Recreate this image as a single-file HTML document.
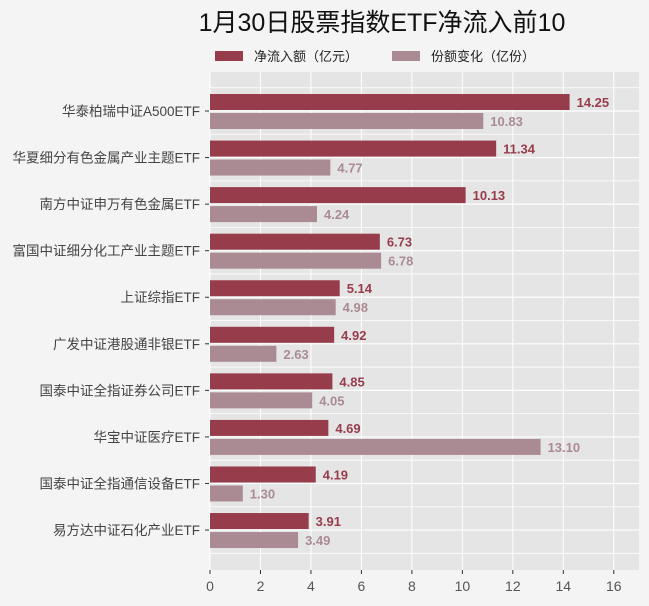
<!DOCTYPE html>
<html><head><meta charset="utf-8"><style>
body{margin:0;background:#f4f4f4;font-family:"Liberation Sans","Noto Sans CJK SC",sans-serif;}
svg{display:block}
</style></head><body>
<svg id="c" width="649" height="606">
<text x="382" y="31" text-anchor="middle" font-size="25" fill="#111" font-family="Liberation Sans,Noto Sans CJK SC,sans-serif">1月30日股票指数ETF净流入前10</text>
<g>
<rect x="215" y="51" width="28" height="10" fill="#973c4b"/>
<text x="254" y="61" font-size="13" fill="#222">净流入额（亿元）</text>
<rect x="392" y="51" width="28" height="10" fill="#ab8b93"/>
<text x="431" y="61" font-size="13" fill="#222">份额变化（亿份）</text>
</g>
<g id="plot"></g>
</svg>
<script>
const categories=["华泰柏瑞中证A500ETF","华夏细分有色金属产业主题ETF","南方中证申万有色金属ETF","富国中证细分化工产业主题ETF","上证综指ETF","广发中证港股通非银ETF","国泰中证全指证券公司ETF","华宝中证医疗ETF","国泰中证全指通信设备ETF","易方达中证石化产业ETF"];
const netInflow=[14.25,11.34,10.13,6.73,5.14,4.92,4.85,4.69,4.19,3.91];
const shareChange=[10.83,4.77,4.24,6.78,4.98,2.63,4.05,13.10,1.30,3.49];
const xTicks=[0,2,4,6,8,10,12,14,16];
const X0=210,X1=639,XMAX=17,T=72,B=570,C0=111,STEP=46.56;
const x=v=>X0+v/XMAX*(X1-X0);
const y=i=>C0+i*STEP;
const g=document.getElementById('plot');
const NS="http://www.w3.org/2000/svg";
function mk(t,a){const e=document.createElementNS(NS,t);for(const k in a)e.setAttribute(k,a[k]);g.appendChild(e);return e;}
let bg=mk('rect',{x:X0,y:T,width:X1-X0,height:B-T,fill:'#e5e5e5'});


xTicks.forEach(t=>{let l=mk('line',{x1:x(t),x2:x(t),y1:T,y2:B,stroke:'#fff','stroke-width':1});


let tk=mk('line',{x1:x(t),x2:x(t),y1:B,y2:B+4,stroke:'#333'});


let tx=mk('text',{x:x(t),y:B+21,'text-anchor':'middle','font-size':14,fill:'#555'});tx.textContent=t;

});
for(let k=-0.5;k<categories.length;k+=0.5){const yy=y(k);if(yy<T||yy>B)continue;let l=mk('line',{x1:X0,x2:X1,y1:yy,y2:yy,stroke:'#fff','stroke-width':k%1===0?1.2:0.8});

}
categories.forEach((c,i)=>{const cy=y(i);
let tk=mk('line',{x1:X0-5,x2:X0-1,y1:cy,y2:cy,stroke:'#333'});


let lb=mk('text',{x:X0-10,y:cy+5,'text-anchor':'end','font-size':13.5,fill:'#444'});lb.textContent=c;


let b1=mk('rect',{x:X0,y:cy-17,width:x(netInflow[i])-X0,height:16,fill:'#973c4b'});


let t1=mk('text',{x:x(netInflow[i])+7,y:cy-4,'font-size':13,'font-weight':'bold',fill:'#973c4b'});t1.textContent=netInflow[i].toFixed(2);


let b2=mk('rect',{x:X0,y:cy+2,width:x(shareChange[i])-X0,height:16,fill:'#ab8b93'});


let t2=mk('text',{x:x(shareChange[i])+7,y:cy+15,'font-size':13,'font-weight':'bold',fill:'#ab8b93'});t2.textContent=shareChange[i].toFixed(2);

});
</script>
</body></html>
